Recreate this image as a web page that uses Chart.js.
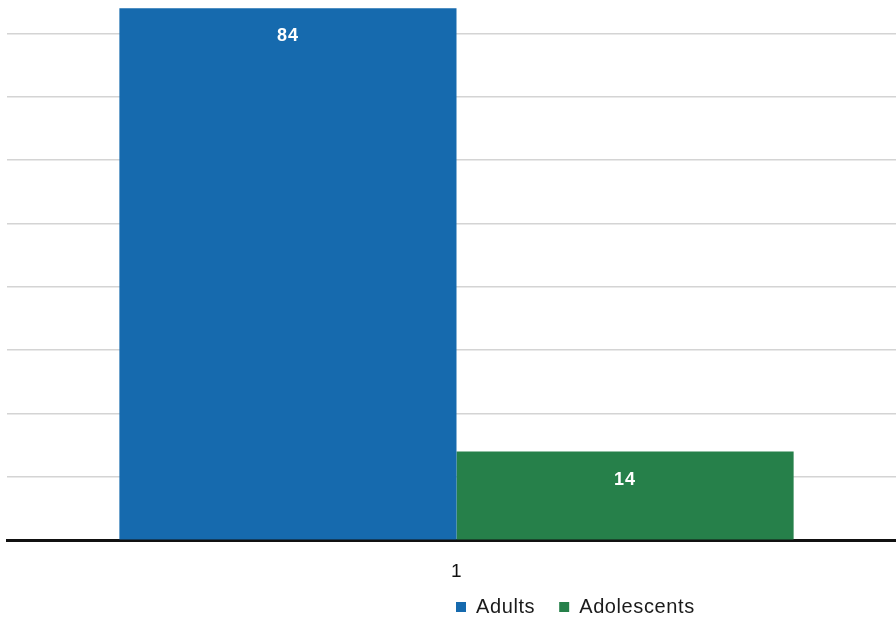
<!DOCTYPE html>
<html>
<head>
<meta charset="utf-8">
<script src="https://cdn.jsdelivr.net/npm/chart.js@4/dist/chart.umd.min.js"></script>
<style>
  html, body { margin: 0; padding: 0; background: #ffffff; overflow: hidden; }
  #wrap { position: relative; width: 912px; height: 618px; }
</style>
</head>
<body>
<div id="wrap"><canvas id="c"></canvas></div>
<script>
const categories = ['1'];
const adultsValues = [84];
const adolescentsValues = [14];
const seriesNames = ['Adults', 'Adolescents'];
const yTickStep = 10;

const FONT = '"Liberation Sans", Arial, sans-serif';

const spacing = {
  id: 'spacing',
  beforeDraw(chart) { chart.ctx.letterSpacing = '0.6px'; },
  afterDraw(chart) { chart.ctx.letterSpacing = '0px'; }
};

const valueLabels = {
  id: 'valueLabels',
  afterDatasetsDraw(chart) {
    const ctx = chart.ctx;
    ctx.save();
    ctx.letterSpacing = '1px';
    ctx.fillStyle = '#ffffff';
    ctx.font = 'bold 18px ' + FONT;
    ctx.textAlign = 'center';
    ctx.textBaseline = 'middle';
    chart.data.datasets.forEach((ds, di) => {
      const meta = chart.getDatasetMeta(di);
      meta.data.forEach((bar, i) => {
        ctx.fillText(String(ds.data[i]), bar.x, bar.y + 28);
      });
    });
    ctx.restore();
  }
};

const legendShift = {
  id: 'legendShift',
  afterLayout(chart) {
    const lg = chart.legend;
    if (!lg) return;
    const w = lg.right - lg.left;
    const h = lg.bottom - lg.top;
    lg.left = 432;
    lg.right = 432 + w;
    lg.top -= 22;
    lg.bottom = lg.top + h;
  }
};

new Chart(document.getElementById('c'), {
  type: 'bar',
  data: {
    labels: categories,
    datasets: [
      { label: seriesNames[0], data: adultsValues, backgroundColor: '#166aae', categoryPercentage: 0.75, barPercentage: 1.0 },
      { label: seriesNames[1], data: adolescentsValues, backgroundColor: '#26804a', categoryPercentage: 0.75, barPercentage: 1.0 }
    ]
  },
  options: {
    responsive: true,
    maintainAspectRatio: false,
    animation: false,
    layout: { padding: { left: 7, right: 6, top: 0, bottom: -31 } },
    plugins: {
      legend: {
        position: 'bottom',
        align: 'start',
        labels: {
          boxWidth: 10,
          boxHeight: 10,
          padding: 24,
          color: '#1a1a1a',
          font: { size: 20, family: FONT }
        }
      },
      tooltip: { enabled: false }
    },
    scales: {
      x: {
        grid: { display: false },
        border: { display: true, color: '#111111', width: 3 },
        ticks: { color: '#111111', font: { size: 19, family: FONT }, padding: 12 }
      },
      y: {
        min: 0,
        max: 85.3,
        ticks: { display: false, stepSize: yTickStep },
        grid: {
          drawTicks: false,
          lineWidth: 1.5,
          color: (c) => (c.tick && c.tick.value % yTickStep === 0) ? '#d4d4d4' : 'rgba(0,0,0,0)'
        },
        border: { display: false }
      }
    }
  },
  plugins: [spacing, valueLabels, legendShift]
});
</script>
</body>
</html>
